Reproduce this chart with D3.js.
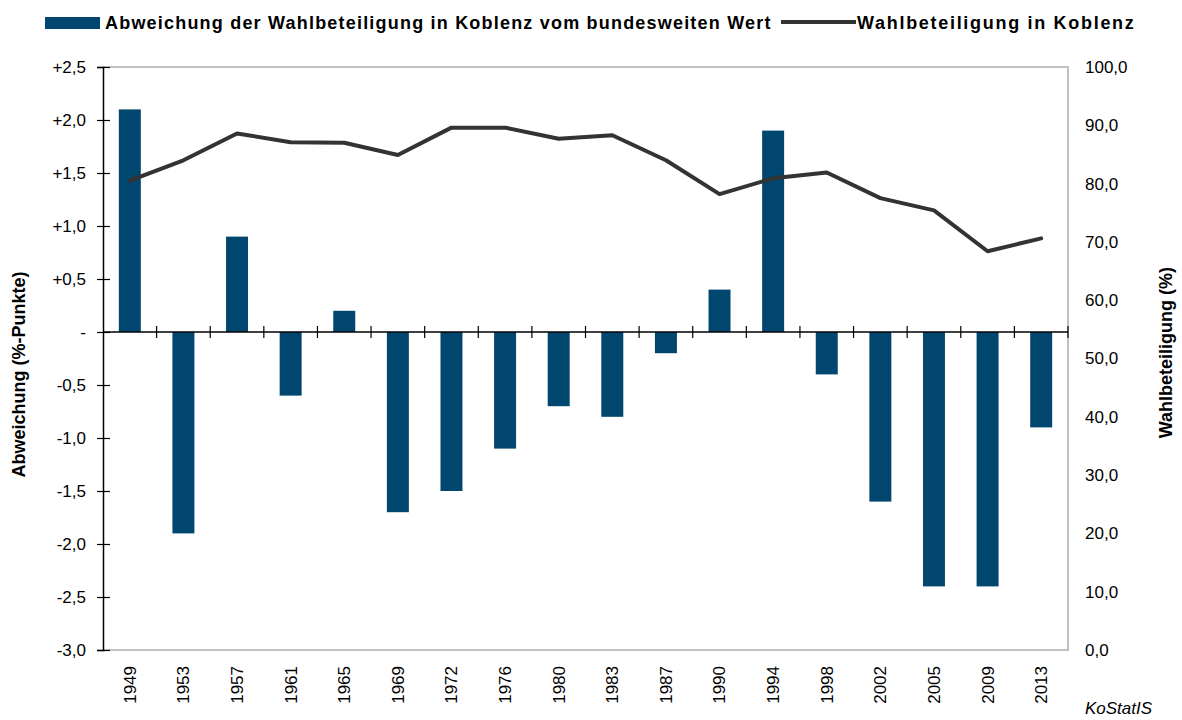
<!DOCTYPE html>
<html>
<head>
<meta charset="utf-8">
<script src="https://cdn.jsdelivr.net/npm/d3@7"></script>
<style>
  body { margin: 0; background: #fff; }
  svg text { font-family: "Liberation Sans", Arial, sans-serif; fill: #000; }
</style>
</head>
<body>
<div id="chart"></div>
<script>
var years = ['1949', '1953', '1957', '1961', '1965', '1969', '1972', '1976', '1980',
  '1983', '1987', '1990', '1994', '1998', '2002', '2005', '2009', '2013'];
var abweichung = [2.1, -1.9, 0.9, -0.6, 0.2, -1.7, -1.5, -1.1, -0.7,
  -0.8, -0.2, 0.4, 1.9, -0.4, -1.6, -2.4, -2.4, -0.9];
var beteiligung = [80.5, 84.0, 88.6, 87.1, 87.0, 84.9, 89.6, 89.6, 87.7,
  88.3, 84.0, 78.2, 80.9, 81.9, 77.5, 75.4, 68.4, 70.6];
var leftTicks = [-3, -2.5, -2, -1.5, -1, -0.5, 0, 0.5, 1, 1.5, 2, 2.5];
var rightTicks = [0, 10, 20, 30, 40, 50, 60, 70, 80, 90, 100];

var svgWidth = 1182;
var svgHeight = 720;
var margin = { left: 103, right: 114, top: 67, bottom: 70 };
var width = svgWidth - margin.left - margin.right;
var height = svgHeight - margin.top - margin.bottom;

var locale = d3.formatLocale({ decimal: ',', thousands: '.', grouping: [3], currency: ['', ' €'], minus: '-' });
var f1 = locale.format('.1f');

var svg = d3.select('#chart').append('svg')
  .attr('width', svgWidth)
  .attr('height', svgHeight);

var g = svg.append('g')
  .attr('transform', 'translate(' + margin.left + ', ' + margin.top + ')');

var xScale = d3.scaleBand()
  .domain(years)
  .range([0, width]);
var yLeft = d3.scaleLinear()
  .domain([-3, 2.5])
  .range([height, 0]);
var yRight = d3.scaleLinear()
  .domain([0, 100])
  .range([height, 0]);

// frame (grey top, right, bottom)
g.append('path')
  .attr('d', 'M0,' + yLeft(2.5) + 'H' + width + 'V' + yLeft(-3) + 'H0')
  .attr('fill', 'none')
  .attr('stroke', '#c0c0c0')
  .attr('stroke-width', 2);

// bars
var barW = xScale.bandwidth() * 0.41;
g.selectAll('.bar')
  .data(abweichung)
  .enter().append('rect')
  .attr('class', 'bar')
  .attr('x', function (d, i) { return xScale(years[i]) + (xScale.bandwidth() - barW) / 2; })
  .attr('y', function (d) { return yLeft(Math.max(0, d)); })
  .attr('width', barW)
  .attr('height', function (d) { return Math.abs(yLeft(d) - yLeft(0)); })
  .attr('fill', '#00466e');

// zero line with category ticks
g.append('line')
  .attr('x1', 0).attr('x2', width)
  .attr('y1', yLeft(0)).attr('y2', yLeft(0))
  .attr('stroke', '#000')
  .attr('stroke-width', 1.5);
g.selectAll('.cat-tick')
  .data(years)
  .enter().append('line')
  .attr('class', 'cat-tick')
  .attr('x1', function (d) { return xScale(d) + xScale.step(); })
  .attr('x2', function (d) { return xScale(d) + xScale.step(); })
  .attr('y1', yLeft(0) - 6)
  .attr('y2', yLeft(0) + 6)
  .attr('stroke', '#000')
  .attr('stroke-width', 1.2);

// line
var line = d3.line()
  .x(function (d, i) { return xScale(years[i]) + xScale.bandwidth() / 2; })
  .y(function (d) { return yRight(d); });
g.append('path')
  .datum(beteiligung)
  .attr('d', line)
  .attr('fill', 'none')
  .attr('stroke', '#333333')
  .attr('stroke-width', 4)
  .attr('stroke-linejoin', 'round')
  .attr('stroke-linecap', 'round');

// left axis
var yAxis = d3.axisLeft(yLeft)
  .tickValues(leftTicks)
  .tickSize(6)
  .tickPadding(11)
  .tickFormat(function (d) {
    if (d === 0) return '-';
    return (d > 0 ? '+' : '') + f1(d);
  });
var ax = g.append('g')
  .attr('class', 'axis axis--y')
  .call(yAxis);
ax.select('.domain').attr('stroke', '#000').attr('stroke-width', 1.5);
ax.selectAll('.tick line').attr('x1', 7).attr('stroke', '#000').attr('stroke-width', 1.2);
ax.selectAll('.tick text')
  .style('font-size', '17px')
  .attr('fill', '#000');

// right axis
var yAxisR = d3.axisRight(yRight)
  .tickValues(rightTicks)
  .tickSize(0)
  .tickPadding(17)
  .tickFormat(f1);
var axr = g.append('g')
  .attr('class', 'axis axis--r')
  .attr('transform', 'translate(' + width + ', 0)')
  .call(yAxisR);
axr.select('.domain').remove();
axr.selectAll('.tick text')
  .style('font-size', '17px')
  .attr('fill', '#000');

// x labels
var xAxis = d3.axisBottom(xScale).tickSize(0);
var axx = g.append('g')
  .attr('class', 'axis axis--x')
  .attr('transform', 'translate(0, ' + height + ')')
  .call(xAxis);
axx.select('.domain').remove();
axx.selectAll('.tick text')
  .style('font-size', '17px')
  .attr('text-anchor', 'end')
  .attr('transform', 'rotate(-90)')
  .attr('x', -16)
  .attr('y', 0)
  .attr('dy', '0.35em');

// axis titles
svg.append('text')
  .attr('transform', 'translate(25, ' + (margin.top + yLeft(-0.4)) + ') rotate(-90)')
  .attr('text-anchor', 'middle')
  .style('font-size', '18px')
  .style('font-weight', 'bold')
  .text('Abweichung (%-Punkte)');
svg.append('text')
  .attr('transform', 'translate(1172, ' + (margin.top + yRight(51)) + ') rotate(-90)')
  .attr('text-anchor', 'middle')
  .style('font-size', '18px')
  .style('font-weight', 'bold')
  .text('Wahlbeteiligung (%)');

// legend
var legend = svg.append('g');
legend.append('rect')
  .attr('x', 45).attr('y', 17)
  .attr('width', 55).attr('height', 12)
  .attr('fill', '#00466e');
legend.append('text')
  .attr('x', 105).attr('y', 29)
  .style('font-size', '18px')
  .style('font-weight', 'bold')
  .style('letter-spacing', '1.2px')
  .text('Abweichung der Wahlbeteiligung in Koblenz vom bundesweiten Wert');
legend.append('line')
  .attr('x1', 781).attr('x2', 856)
  .attr('y1', 22).attr('y2', 22)
  .attr('stroke', '#333333')
  .attr('stroke-width', 4);
legend.append('text')
  .attr('x', 857).attr('y', 29)
  .style('font-size', '18px')
  .style('font-weight', 'bold')
  .style('letter-spacing', '1.7px')
  .text('Wahlbeteiligung in Koblenz');

svg.append('text')
  .attr('x', 1152).attr('y', 714)
  .attr('text-anchor', 'end')
  .style('font-size', '17px')
  .style('font-style', 'italic')
  .text('KoStatIS');
</script>
</body>
</html>
